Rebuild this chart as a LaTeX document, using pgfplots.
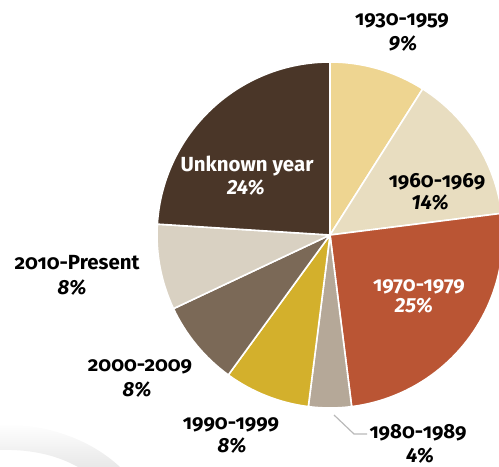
\documentclass[border=0pt]{standalone}
\usepackage{pgfplots}
\pgfplotsset{compat=1.18}
\usepackage{pgfplotstable}
\usepackage{fontspec}
\setmainfont{Fira Sans}
\definecolor{color0}{HTML}{EED591}
\definecolor{color1}{HTML}{E8DDC0}
\definecolor{color2}{HTML}{BA5534}
\definecolor{color3}{HTML}{B5A898}
\definecolor{color4}{HTML}{D3B02C}
\definecolor{color5}{HTML}{7B6957}
\definecolor{color6}{HTML}{D9D1C2}
\definecolor{color7}{HTML}{4A3628}
\pgfplotstableread[col sep=comma]{
period,pct
1930-1959,9
1960-1969,14
1970-1979,25
1980-1989,4
1990-1999,8
2000-2009,8
2010-Present,8
Unknown year,24
}\piedata
\newcommand{\yr}[1]{{\addfontfeature{Numbers=OldStyle}\bfseries #1}}
\newcommand{\pc}[1]{{\bfseries\itshape #1}}
\begin{document}
\begin{tikzpicture}
\begin{axis}[
  width=499bp, height=467bp, scale only axis,
  xmin=0, xmax=499, ymin=0, ymax=467,
  hide axis, clip=true,
]
\shade[top color=white, bottom color=black!9, draw=none]
  (axis cs:0,17) .. controls (axis cs:35,18) and (axis cs:60,10) .. (axis cs:78,0)
  -- (axis cs:120,0) .. controls (axis cs:90,28) and (axis cs:45,44) .. (axis cs:0,42) -- cycle;
\def\cum{0}
\pgfplotsforeachungrouped \i in {0,...,7}{
  \pgfplotstablegetelem{\i}{pct}\of\piedata
  \let\p\pgfplotsretval
  \pgfmathsetmacro\a{90-3.6*\cum}
  \pgfmathsetmacro\b{90-3.6*(\cum+\p)}
  \edef\temp{\noexpand\fill[color\i, draw=white, line width=1.6pt, line join=round]
    (axis cs:330,232) -- ++(\a:173bp) arc[start angle=\a, end angle=\b, radius=173bp] -- cycle;}
  \temp
  \pgfmathsetmacro\cum{\cum+\p}
}
\draw[gray!55, line width=1.2pt] (axis cs:334,52) -- (axis cs:354,33) -- (axis cs:367,33);
\tikzset{lab/.style={font=\fontsize{20.5}{24}\selectfont, inner sep=0pt, anchor=base}}
\node[lab] at (axis cs:402,441) {\yr{1930-1959}};
\node[lab] at (axis cs:403,416) {\pc{9\%}};
\node[lab] at (axis cs:437,279) {\yr{1960-1969}};
\node[lab] at (axis cs:430,257) {\pc{14\%}};
\node[lab, white] at (axis cs:247,295) {\bfseries Unknown year};
\node[lab, white] at (axis cs:246,272) {\pc{24\%}};
\node[lab, white] at (axis cs:419,175) {\yr{1970-1979}};
\node[lab, white] at (axis cs:414,154) {\pc{25\%}};
\node[lab] at (axis cs:77,197) {\yr{2010-Present}};
\node[lab] at (axis cs:72,172) {\pc{8\%}};
\node[lab] at (axis cs:140,95) {\yr{2000-2009}};
\node[lab] at (axis cs:137,70) {\pc{8\%}};
\node[lab] at (axis cs:231,37) {\yr{1990-1999}};
\node[lab] at (axis cs:232,15) {\pc{8\%}};
\node[lab] at (axis cs:418,29) {\yr{1980-1989}};
\node[lab] at (axis cs:420,5) {\pc{4\%}};
\end{axis}
\path[use as bounding box] (0,0) rectangle (499bp,467bp);
\end{tikzpicture}
\end{document}
